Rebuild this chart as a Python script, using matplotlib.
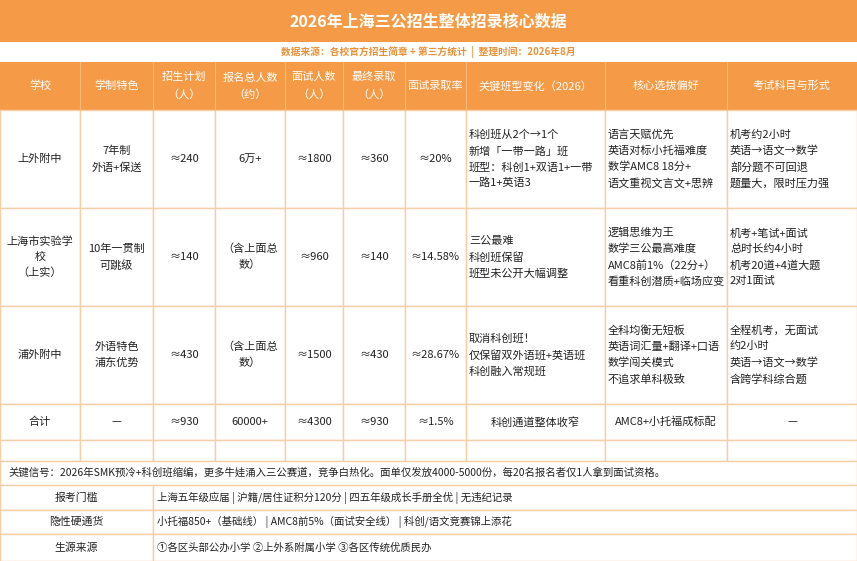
import matplotlib
matplotlib.use("Agg")
import matplotlib.pyplot as plt
from matplotlib.patches import Rectangle

plt.rcParams['font.family'] = ['Noto Sans CJK SC', 'DejaVu Sans']

title = "2026年上海三公招生整体招录核心数据"
subtitle = "数据来源：各校官方招生简章 + 第三方统计  |  整理时间：2026年8月"
headers = ["学校", "学制特色", "招生计划\n（人）", "报名总人数\n（约）", "面试人数\n（人）", "最终录取\n（人）",
           "面试录取率", "关键班型变化（2026）", "核心选拔偏好", "考试科目与形式"]
schools = ["上外附中", "上海市实验学\n校\n（上实）", "浦外附中", "合计"]
features = ["7年制\n外语+保送", "10年一贯制\n可跳级", "外语特色\n浦东优势", "—"]
plan = ["≈240", "≈140", "≈430", "≈930"]
applicants = ["6万+", "（含上面总\n数）", "（含上面总\n数）", "60000+"]
interview = ["≈1800", "≈960", "≈1500", "≈4300"]
admitted = ["≈360", "≈140", "≈430", "≈930"]
rate = ["≈20%", "≈14.58%", "≈28.67%", "≈1.5%"]
changes = ["科创班从2个→1个\n新增「一带一路」班\n班型：科创1+双语1+一带\n一路1+英语3",
           "三公最难\n科创班保留\n班型未公开大幅调整",
           "取消科创班！\n仅保留双外语班+英语班\n科创融入常规班",
           "科创通道整体收窄"]
prefs = ["语言天赋优先\n英语对标小托福难度\n数学AMC8 18分+\n语文重视文言文+思辨",
         "逻辑思维为王\n数学三公最高难度\nAMC8前1%（22分+）\n看重科创潜质+临场应变",
         "全科均衡无短板\n英语词汇量+翻译+口语\n数学闯关模式\n不追求单科极致",
         "AMC8+小托福成标配"]
exams = ["机考约2小时\n英语→语文→数学\n部分题不可回退\n题量大，限时压力强",
         "机考+笔试+面试\n总时长约4小时\n机考20道+4道大题\n2对1面试",
         "全程机考，无面试\n约2小时\n英语→语文→数学\n含跨学科综合题",
         "—"]
signal = "关键信号：2026年SMK预冷+科创班缩编，更多牛娃涌入三公赛道，竞争白热化。面单仅发放4000-5000份，每20名报名者仅1人拿到面试资格。"
info_labels = ["报考门槛", "隐性硬通货", "生源来源"]
info_values = ["上海五年级应届 | 沪籍/居住证积分120分 | 四五年级成长手册全优 | 无违纪记录",
               "小托福850+（基础线） | AMC8前5%（面试安全线） | 科创/语文竞赛锦上添花",
               "①各区头部公办小学 ②上外系附属小学 ③各区传统优质民办"]

W, H = 857, 561
ORANGE = "#F59B47"
LINE = "#F7CFA6"
TXT = "#222222"

fig = plt.figure(figsize=(W/100, H/100), dpi=100)
ax = fig.add_axes([0, 0, 1, 1])
ax.set_xlim(0, W); ax.set_ylim(H, 0); ax.axis('off')

def rect(x0, y0, x1, y1, fc, ec=LINE, lw=1):
    ax.add_patch(Rectangle((x0, y0), x1-x0, y1-y0, facecolor=fc, edgecolor=ec, lw=lw))

rect(0, 0, W, 42, ORANGE, ec="none")
ax.text(W/2, 22, title, ha='center', va='center', color='white', fontsize=11.5, fontweight='bold')
rect(0, 42, W, 62, "white", ec="none")
ax.text(W/2, 52, subtitle, ha='center', va='center', color="#E8923A", fontsize=7, fontweight='bold')

cols = [0, 80, 153, 215, 285, 343, 405, 466, 605, 727, W]
rect(0, 62, W, 110, ORANGE, ec="none")
for i, h in enumerate(headers):
    ax.text((cols[i]+cols[i+1])/2, 86, h, ha='center', va='center', color='white', fontsize=8,
            linespacing=1.8)
for c in cols[1:-1]:
    ax.plot([c, c], [62, 110], color="#F8B878", lw=0.8)

rows = [110, 208, 306, 404, 440, 461]
data_cols = [schools, features, plan, applicants, interview, admitted, rate, changes, prefs, exams]
for r in range(5):
    for c in range(10):
        rect(cols[c], rows[r], cols[c+1], rows[r+1], "white")
for r in range(4):
    yc = (rows[r]+rows[r+1])/2
    for c in range(10):
        txt = data_cols[c][r]
        left = c >= 7 and r < 3
        x = cols[c]+3 if left else (cols[c]+cols[c+1])/2
        ax.text(x, yc, txt, ha='left' if left else 'center', va='center', color=TXT,
                fontsize=8, linespacing=1.65)

rect(0, 461, W, 485, "white")
ax.text(8, 473, signal, ha='left', va='center', color=TXT, fontsize=7.5)
irows = [485, 510, 534, 561]
for i in range(3):
    rect(0, irows[i], 153, irows[i+1], "white")
    rect(153, irows[i], W, irows[i+1], "white")
    yc = (irows[i]+irows[i+1])/2
    ax.text(76, yc, info_labels[i], ha='center', va='center', color=TXT, fontsize=7.8)
    ax.text(157, yc, info_values[i], ha='left', va='center', color=TXT, fontsize=7.5)

fig.savefig("out.png", dpi=100)
